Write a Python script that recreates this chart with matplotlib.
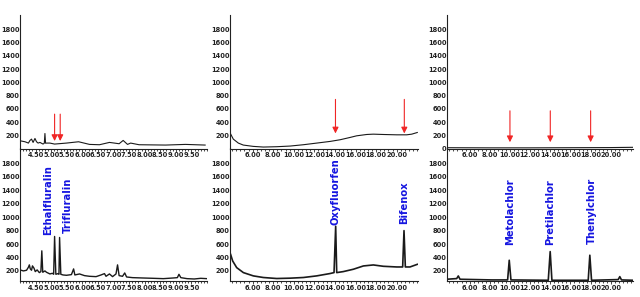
import matplotlib
matplotlib.use('Agg')
import matplotlib.pyplot as plt
from matplotlib.ticker import MultipleLocator, FormatStrFormatter

# --- panel 1: 4-10 min window ---
p1_top_x = [4.00, 4.16, 4.27, 4.32, 4.37, 4.42, 4.48, 4.53, 4.58, 4.64, 4.74, 4.78, 4.80,
            4.82, 4.85, 4.96, 5.11, 5.49, 5.88, 6.23, 6.55, 6.87, 7.03, 7.18, 7.31, 7.45,
            7.55, 7.82, 8.67, 9.31, 9.94]
p1_top_y = [117, 102, 82, 122, 142, 92, 152, 102, 82, 92, 67, 80, 227,
            80, 82, 82, 67, 82, 102, 62, 57, 92, 82, 72, 122, 62,
            82, 57, 52, 62, 52]

p1_bot_x = [4.00, 4.11, 4.21, 4.27, 4.30, 4.33, 4.37, 4.40, 4.45, 4.49, 4.55, 4.62, 4.67,
            4.70, 4.73, 4.80, 4.85, 4.96, 5.04, 5.08, 5.11, 5.15, 5.22, 5.25, 5.27, 5.31,
            5.38, 5.49, 5.65, 5.72, 5.76, 5.91, 6.07, 6.23, 6.44, 6.60, 6.71, 6.76, 6.87,
            6.97, 7.08, 7.13, 7.18, 7.29, 7.36, 7.42, 7.61, 7.93, 8.28, 8.60, 8.92, 9.05,
            9.10, 9.16, 9.36, 9.59, 9.80, 9.99]
p1_bot_y = [215, 200, 210, 255, 290, 230, 210, 275, 240, 190, 215, 175, 190,
            499, 180, 200, 180, 155, 165, 150, 713, 150, 160, 150, 698, 150,
            140, 135, 145, 230, 140, 155, 130, 120, 115, 140, 160, 120, 155,
            115, 155, 290, 130, 120, 170, 110, 100, 95, 90, 85, 95, 100,
            150, 100, 85, 80, 90, 85]

# --- panel 2: 4-22 min window ---
p2_top_x = [3.87, 4.12, 4.61, 5.09, 6.06, 7.04, 8.33, 9.64, 10.93, 12.23, 13.52, 14.49,
            15.46, 16.11, 17.08, 17.73, 18.70, 20.00, 20.97, 21.46, 22.00]
p2_top_y = [217, 142, 82, 52, 32, 22, 27, 37, 57, 82, 107, 132,
            167, 192, 212, 217, 212, 207, 207, 217, 242]

p2_bot_x = [3.86, 4.06, 4.45, 5.10, 6.07, 7.04, 8.34, 9.63, 10.93, 12.22, 13.52, 13.91,
            14.07, 14.17, 14.81, 15.79, 16.76, 17.73, 18.70, 20.00, 20.58, 20.71, 20.84,
            21.29, 22.00]
p2_bot_y = [446, 348, 249, 175, 126, 102, 87, 92, 102, 126, 161, 175,
            865, 175, 190, 225, 274, 289, 269, 259, 259, 800, 259,
            259, 298]

# --- panel 3: 4-22 min window ---
p3_top_x = [3.73, 8.00, 12.00, 16.00, 20.00, 22.20]
p3_top_y = [12, 10, 10, 12, 14, 18]

p3_bot_x = [3.73, 4.72, 4.88, 5.05, 8.19, 9.77, 9.93, 10.10, 13.80, 13.99, 14.16,
            17.76, 17.92, 18.09, 20.73, 20.89, 21.06, 22.21]
p3_bot_y = [76, 86, 125, 76, 66, 66, 359, 66, 61, 488, 61,
            61, 434, 61, 71, 115, 66, 61]

# x tick positions (minutes)
p1_xticks = [4.5, 5.0, 5.5, 6.0, 6.5, 7.0, 7.5, 8.0, 8.5, 9.0, 9.5]
p23_xticks = [6, 8, 10, 12, 14, 16, 18, 20]

# compound names and where their labels sit
p1_names = ['Ethalfluralin', 'Trifluralin']
p1_name_x = [4.90, 5.54]
p1_name_y = [738, 763]
p2_names = ['Oxyfluorfen', 'Bifenox']
p2_name_x = [14.05, 20.74]
p2_name_y = [889, 899]
p3_names = ['Metolachlor', 'Pretilachlor', 'Thenylchlor']
p3_name_x = [10.0, 14.0, 18.1]
p3_name_y = [583, 588, 598]

# red arrows in the blank runs (x, arrow start, arrow tip)
p1_arrow_x = [5.11, 5.29]
p2_arrow_x = [14.05, 20.74]
p3_arrow_x = [10.0, 14.0, 18.0]
p1_arrow_y = [520, 113]
p2_arrow_y = [743, 228]
p3_arrow_y = [570, 95]

fig = plt.figure(figsize=(6.4, 2.97), dpi=100)

cols = [(20 / 640, 187 / 640), (230 / 640, 188 / 640), (446.7 / 640, 186.3 / 640)]
top_row = (0.5, 133.5 / 297)
bot_row = (16 / 297, 133 / 297)

blue = '#1515e0'
red = '#f02525'


def style(ax, xlim, ylim, xticks, minor, yticks):
    ax.set_xlim(*xlim)
    ax.set_ylim(*ylim)
    ax.set_xticks(xticks)
    ax.xaxis.set_minor_locator(MultipleLocator(minor))
    ax.xaxis.set_major_formatter(FormatStrFormatter('%.2f'))
    ax.set_yticks(yticks)
    ax.patch.set_visible(False)
    for s in ['top', 'right']:
        ax.spines[s].set_visible(False)
    for s in ['left', 'bottom']:
        ax.spines[s].set_linewidth(0.8)
        ax.spines[s].set_color('#222222')
    ax.tick_params(axis='x', which='major', direction='out', length=1.8, width=0.5, pad=0.8)
    ax.tick_params(axis='x', which='minor', direction='out', length=1.4, width=0.5)
    ax.tick_params(axis='y', length=0, pad=0.2)
    for lab in ax.get_xticklabels() + ax.get_yticklabels():
        lab.set_fontfamily('DejaVu Sans')
        lab.set_fontweight('bold')
        lab.set_fontsize(4.8)
        lab.set_color('#222222')


def names(ax, nm, xs, ys):
    for n, x, y in zip(nm, xs, ys):
        ax.text(x, y, n, rotation=90, ha='center', va='bottom', color=blue,
                fontsize=7.2, fontweight='bold', family='DejaVu Sans')


def arrows(ax, xs, ys):
    for x in xs:
        ax.annotate('', xy=(x, ys[1]), xytext=(x, ys[0]),
                    arrowprops=dict(arrowstyle='-|>', color=red, lw=0.8,
                                    mutation_scale=9, shrinkA=0, shrinkB=0))


yt = [200, 400, 600, 800, 1000, 1200, 1400, 1600, 1800]

panels = [
    (p1_top_x, p1_top_y, p1_bot_x, p1_bot_y, (4.0, 10.0), p1_xticks, 0.1,
     p1_names, p1_name_x, p1_name_y, p1_arrow_x, p1_arrow_y),
    (p2_top_x, p2_top_y, p2_bot_x, p2_bot_y, (3.8, 22.07), p23_xticks, 0.4,
     p2_names, p2_name_x, p2_name_y, p2_arrow_x, p2_arrow_y),
    (p3_top_x, p3_top_y, p3_bot_x, p3_bot_y, (3.73, 22.2), p23_xticks, 0.4,
     p3_names, p3_name_x, p3_name_y, p3_arrow_x, p3_arrow_y),
]

for i, (tx, ty, bx, by, xl, xt, mnr, nm, nx, ny, ax_x, ax_y) in enumerate(panels):
    left, width = cols[i]
    ax_b = fig.add_axes([left, bot_row[0], width, bot_row[1]])
    ax_b.plot(bx, by, color='#1a1a1a', lw=1.0 if i == 0 else 1.2)
    style(ax_b, xl, (50, 2030), xt, mnr, yt)
    names(ax_b, nm, nx, ny)

    ax_t = fig.add_axes([left, top_row[0], width, top_row[1]])
    ax_t.plot(tx, ty, color='#1a1a1a', lw=0.8)
    style(ax_t, xl, (0, 2020), xt, mnr, ([0] + yt) if i == 2 else yt)
    arrows(ax_t, ax_x, ax_y)

plt.savefig('out.png', dpi=100)
